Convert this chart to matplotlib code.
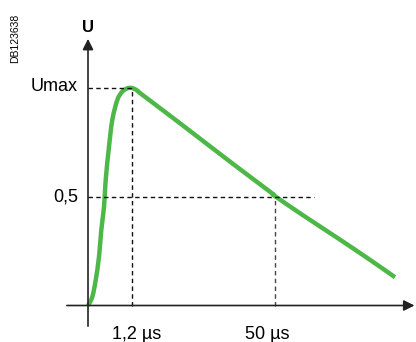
import matplotlib
matplotlib.use("Agg")
import matplotlib.pyplot as plt
from matplotlib.path import Path
from matplotlib.patches import PathPatch

# Impulse voltage wave: normalised U against time (arbitrary time units,
# peak reached at t_peak, half value reached on the tail at t_half)
t_values = [0.0, 0.098, 0.175, 0.250, 0.302, 0.364, 0.402, 0.477, 0.552,
            0.666, 0.773, 0.886, 1.0, 1.114, 1.227, 2.09, 3.23, 4.136,
            4.25, 4.893, 5.652, 6.409, 6.977]
u_values = [0.0, 0.040, 0.117, 0.224, 0.347, 0.454, 0.577, 0.730, 0.853,
            0.945, 0.982, 0.998, 1.0, 0.989, 0.970, 0.838, 0.661, 0.523,
            0.503, 0.414, 0.313, 0.210, 0.130]

t_peak = 1.0
t_half = 4.25
u_max = 1.0
u_half = 0.5

y_labels = ["Umax", "0,5"]
x_labels = ["1,2 µs", "50 µs"]

plt.rcParams["font.family"] = ["Liberation Sans", "DejaVu Sans"]

fig = plt.figure(figsize=(4.16, 3.42), dpi=100)
ax = fig.add_axes([0, 0, 1, 1])
ax.set_xlim(-2.0, 7.4545)
ax.set_ylim(-0.1678, 1.4046)
ax.axis("off")

axis_color = "#222222"

# Axes with arrow heads
ax.annotate("", xy=(7.42, 0), xytext=(-0.48, 0),
            arrowprops=dict(arrowstyle="-|>", color=axis_color, lw=1.2,
                            mutation_scale=16, shrinkA=0, shrinkB=0))
ax.annotate("", xy=(0, 1.226), xytext=(0, -0.095),
            arrowprops=dict(arrowstyle="-|>", color=axis_color, lw=1.2,
                            mutation_scale=16, shrinkA=0, shrinkB=0))

dash = (0, (3.2, 2.4))
# Guide lines to the peak and the half value
ax.plot([0, t_peak], [u_max, u_max], color="#111111", lw=1.0, linestyle=dash)
ax.plot([t_peak, t_peak], [0, u_max], color="#111111", lw=1.0, linestyle=dash)
ax.plot([0, 5.14], [u_half, u_half], color="#111111", lw=1.0, linestyle=dash)
ax.plot([t_half, t_half], [0, u_half], color="#444444", lw=1.0, linestyle=dash)


def smooth_path(xs, ys):
    """Catmull-Rom curve through the points, as cubic Bezier segments."""
    pts = list(zip(xs, ys))
    verts = [pts[0]]
    codes = [Path.MOVETO]
    n = len(pts)
    for i in range(n - 1):
        p0 = pts[i - 1] if i > 0 else pts[i]
        p1 = pts[i]
        p2 = pts[i + 1]
        p3 = pts[i + 2] if i + 2 < n else pts[i + 1]
        c1 = (p1[0] + (p2[0] - p0[0]) / 6, p1[1] + (p2[1] - p0[1]) / 6)
        c2 = (p2[0] - (p3[0] - p1[0]) / 6, p2[1] - (p3[1] - p1[1]) / 6)
        verts += [c1, c2, p2]
        codes += [Path.CURVE4] * 3
    return Path(verts, codes)


# Wave shape
ax.add_patch(PathPatch(smooth_path(t_values, u_values), facecolor="none",
                       edgecolor="#4db848", lw=3.2, capstyle="butt",
                       joinstyle="round"))

# Labels
fs = 13
ax.text(-0.239, 0.988, y_labels[0], ha="right", va="baseline", fontsize=fs)
ax.text(-0.227, 0.480, y_labels[1], ha="right", va="baseline", fontsize=fs)
ax.text(0.545, -0.156, x_labels[0], ha="left", va="baseline", fontsize=fs)
ax.text(3.568, -0.156, x_labels[1], ha="left", va="baseline", fontsize=fs)
ax.text(0, 1.278, "U", ha="center", va="center", fontsize=12, fontweight="bold")
ax.text(-1.659, 1.230, "DB123638", ha="center", va="center", fontsize=7.5,
        rotation=90)

fig.savefig("out.png", dpi=100)
